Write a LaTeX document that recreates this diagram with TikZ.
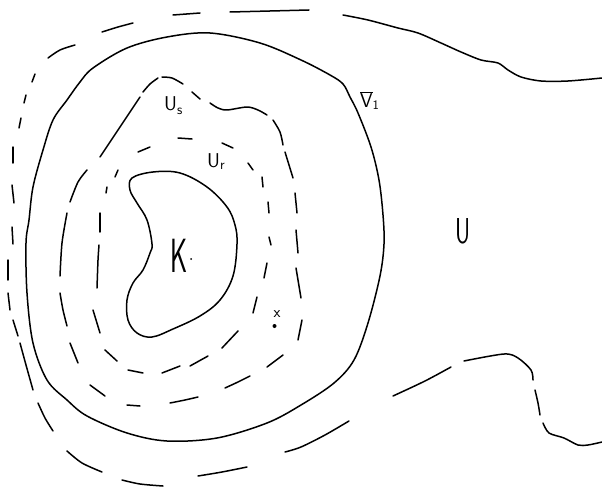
\documentclass[tikz,border=0pt]{standalone}
\usepackage{fontspec}
\begin{document}
\begin{tikzpicture}[x=1pt,y=-1pt,
  pen/.style={line width=1.5pt,line cap=round,line join=round},
  dsh/.style={pen},
  lbl/.style={inner sep=0pt,anchor=base west,font=\sffamily}]
\useasboundingbox (0,0) rectangle (602,487);
% ---- outer set U: dashed part on the left
\foreach \p in {
 {(309,10) (270,11) (230,12)},
 {(200,13) (173,15)},
 {(133,23) (118,27) (102,32)},
 {(75,45) (60,50) (48,58)},
 {(35,74) (32,82)},
 {(26,95) (24,103)},
 {(21,118) (19,128)},
 {(13,147) (13,163)},
 {(12,185) (14,203)},
 {(12,227) (13,244)},
 {(8,260) (8,280)},
 {(8,293) (10,310)},
 {(13,320) (18,336)},
 {(20,343) (26,365) (33,390)},
 {(38,403) (45,418) (53,431)},
 {(67,451) (82,463) (102,472)},
 {(122,480) (140,484) (163,486)},
 {(198,476) (222,472) (247,467)},
 {(285,452) (301,447) (325,435) (349,421)},
 {(393,396) (425,381) (451,367)}}
 {\draw[dsh] plot[smooth] coordinates \p;}
% ---- outer set U: solid parts on the right
\draw[pen] plot[smooth] coordinates {(343,15) (368,20) (398,28) (418,33) (441,43) (461,52) (481,60) (498,63) (508,70) (521,77) (541,81) (568,81) (602,78)};
\draw[pen] plot[smooth] coordinates {(464,361) (504,354) (518,358) (531,370) (533,380)};
\draw[pen] plot[smooth] coordinates {(535,390) (538,403) (540,415)};
\draw[pen] plot[smooth] coordinates {(543,423) (549,433) (564,438) (578,445) (588,445) (602,442)};
% ---- V1 (solid)
\draw[pen] plot[smooth cycle,tension=0.55] coordinates {(210,33) (260,43) (301,60) (330,75) (343,84) (350,97) (358,113) (371,147) (379,180) (383,215) (384,244) (380,276) (368,323) (354,360) (334,383) (301,405) (267,423) (217,438) (167,441) (127,433) (87,416) (67,400) (47,380) (33,343) (27,293) (26,243) (29,220) (33,187) (43,150) (53,120) (67,100) (80,82) (93,68) (127,48) (167,37)};
% ---- U_s (dashed)
\foreach \p in {
 {(100,157) (120,127) (140,97)},
 {(143,92) (150,84) (158,78)},
 {(162,77) (172,78) (183,84)},
 {(192,92) (200,99)},
 {(210,103) (218,108) (227,110) (247,107) (258,110) (267,115)},
 {(273,120) (280,132) (283,145)},
 {(285,152) (289,165) (293,178)},
 {(295,193) (297,213)},
 {(296,230) (298,253)},
 {(296,268) (301,298)},
 {(302,320) (298,340)},
 {(283,355) (267,367)},
 {(250,376) (238,382) (225,388)},
 {(198,397) (185,400) (170,403)},
 {(140,406) (127,405)},
 {(105,396) (90,385)},
 {(78,363) (70,343)},
 {(67,326) (63,310) (60,293)},
 {(60,276) (62,243) (67,213)},
 {(70,202) (78,182) (87,170)}}
 {\draw[dsh] plot[smooth] coordinates \p;}
% ---- U_r (dashed)
\foreach \p in {
 {(178,138) (192,139)},
 {(138,152) (150,147)},
 {(118,170) (115,177)},
 {(107,187) (106,193)},
 {(100,213) (100,232)},
 {(99,245) (98,260) (97,288)},
 {(93,310) (100,333)},
 {(105,350) (117,361)},
 {(128,370) (143,373)},
 {(162,373) (180,366)},
 {(190,366) (208,356)},
 {(222,348) (238,331)},
 {(253,313) (257,297)},
 {(264,278) (267,263)},
 {(269,237) (271,245)},
 {(268,202) (269,213)},
 {(262,177) (263,187)},
 {(248,163) (253,170)},
 {(222,143) (233,148)}}
 {\draw[dsh] plot[smooth] coordinates \p;}
% ---- K (solid)
\draw[pen] plot[smooth cycle,tension=0.6] coordinates {(132,178) (153,172) (180,173) (207,187) (227,207) (235,225) (237,244) (233,276) (220,300) (200,316) (173,329) (152,337) (137,333) (128,320) (127,300) (133,283) (143,270) (150,253) (152,244) (147,220) (137,203) (130,190)};
% ---- labels
\node[lbl] (us) at (164,110) {\fontsize{20}{22}\selectfont U\raisebox{-0.2em}{\fontsize{14}{16}\selectfont s}};
\node[lbl] (ur) at (207,167) {\fontsize{20}{22}\selectfont U\raisebox{-0.1em}{\fontsize{14}{16}\selectfont r}};
\node[lbl] (v1) at (360,107) {$\overline{\hbox{\sffamily\fontsize{20}{22}\selectfont V}}$\raisebox{-0.2em}{\fontsize{13}{15}\selectfont 1}};
\node[lbl,xscale=0.65] (u) at (455,243) {\fontsize{36}{40}\selectfont U};
\node[lbl,xscale=0.55] (k) at (170,272) {\fontsize{48}{52}\selectfont K};
\fill (191,259) circle (1pt);
\node[inner sep=0pt,font=\sffamily] (x) at (277,314) {\fontsize{16}{18}\selectfont x};
\fill (274.5,326) circle (2pt);
\end{tikzpicture}
\end{document}
